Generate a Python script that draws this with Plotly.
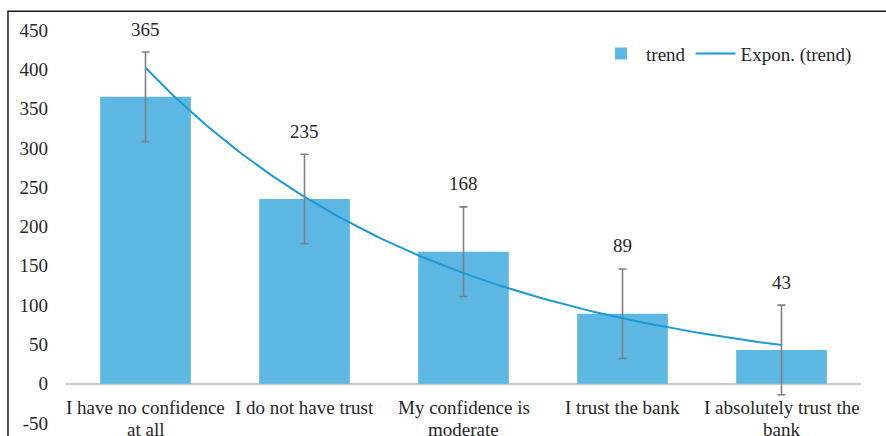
import numpy as np
import plotly.graph_objects as go

categories = [
    "I have no confidence<br>at all",
    "I do not have trust",
    "My confidence is<br>moderate",
    "I trust the bank",
    "I absolutely trust the<br>bank",
]
counts = [365, 235, 168, 89, 43]
error_margin = [57, 57, 57, 57, 57]
y_ticks = [-50, 0, 50, 100, 150, 200, 250, 300, 350, 400, 450]

BAR_COLOR = "#5cb7e2"
LINE_COLOR = "#1c9ad6"
TEXT_COLOR = "#262626"
FONT = "Liberation Serif"
FS = 19

x_pos = np.arange(len(categories))

# exponential trendline y = a * exp(b x), fitted on the log of the counts
b, log_a = np.polyfit(x_pos, np.log(counts), 1)
x_fit = np.linspace(0, len(categories) - 1, 120)
y_fit = np.exp(log_a) * np.exp(b * x_fit)

fig = go.Figure()
fig.add_trace(go.Bar(
    x=x_pos, y=counts, width=0.57, name="trend",
    marker=dict(color=BAR_COLOR, line=dict(width=0)),
    error_y=dict(type="data", array=error_margin, visible=True,
                 color="#808080", thickness=1.6, width=4),
))
fig.add_trace(go.Scatter(
    x=x_fit, y=y_fit, mode="lines", name="Expon. (trend)",
    line=dict(color=LINE_COLOR, width=2),
))

annotations = []
# value labels above the error bars
for xi, v, e in zip(x_pos, counts, error_margin):
    annotations.append(dict(
        x=xi, y=v + e, xref="x", yref="y", text=str(v), yshift=23,
        showarrow=False, font=dict(family=FONT, size=FS, color=TEXT_COLOR),
    ))
# category labels under the zero line, one annotation per text line
for xi, c in zip(x_pos, categories):
    for k, line in enumerate(c.split("<br>")):
        annotations.append(dict(
            x=xi, y=0, xref="x", yref="y", text=line, yanchor="middle",
            yshift=-24 - 22 * k, showarrow=False,
            font=dict(family=FONT, size=FS, color=TEXT_COLOR),
        ))

fig.update_layout(
    width=886, height=436,
    margin=dict(l=66, r=25, t=30, b=13, autoexpand=False),
    paper_bgcolor="white", plot_bgcolor="white",
    font=dict(family=FONT, size=FS, color=TEXT_COLOR),
    showlegend=True,
    legend=dict(orientation="h", x=0.995, xanchor="right", y=0.94, yanchor="middle",
                font=dict(family=FONT, size=FS, color=TEXT_COLOR),
                bgcolor="rgba(0,0,0,0)", itemwidth=40),
    xaxis=dict(range=[-0.5, len(categories) - 0.5], showticklabels=False,
               showgrid=False, zeroline=False, showline=False, ticks="",
               automargin=False),
    yaxis=dict(range=[-50, 450], tickvals=y_ticks,
               ticktext=[str(t) for t in y_ticks], showgrid=False,
               zeroline=True, zerolinecolor="#c8c8c8", zerolinewidth=2,
               showline=False, ticks="", ticklabelstandoff=17, automargin=False,
               tickfont=dict(family=FONT, size=FS, color=TEXT_COLOR)),
    annotations=annotations,
    shapes=[dict(type="rect", xref="paper", yref="paper",
                 x0=-0.073, x1=1.2, y0=-0.2, y1=1.048,
                 line=dict(color="#1a1a1a", width=1.5), layer="below")],
)

fig.write_html("out.html")
